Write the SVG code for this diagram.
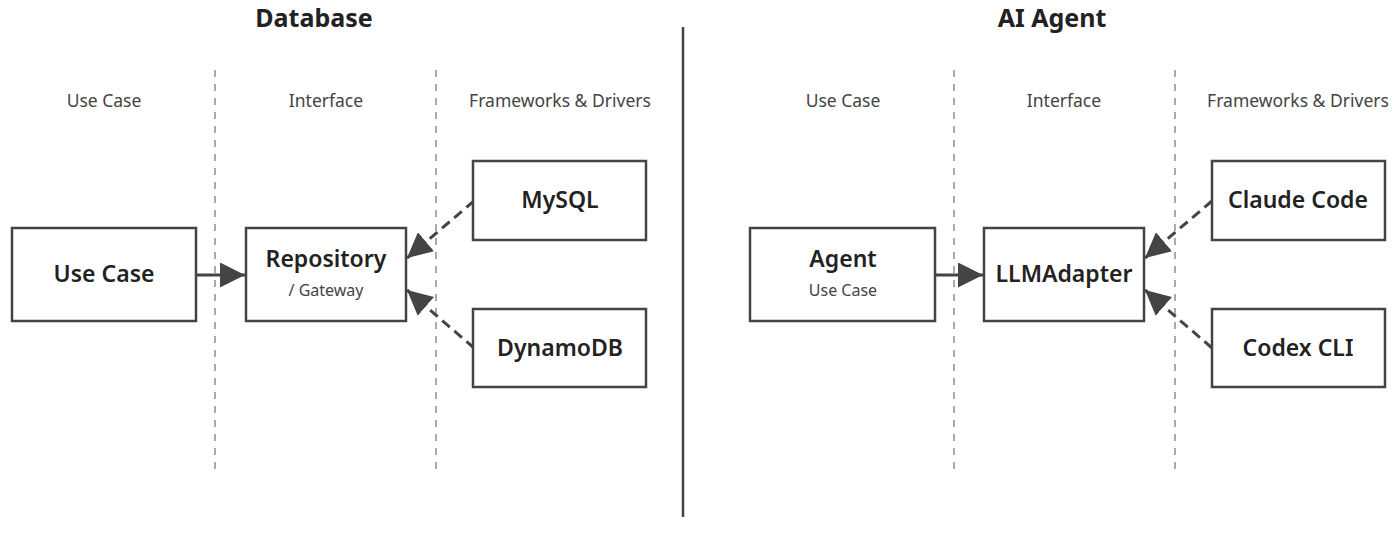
<svg xmlns="http://www.w3.org/2000/svg" width="1400" height="535" viewBox="0 0 1400 535">
<style>
.title{font-family:"Noto Sans","Open Sans","Liberation Sans",sans-serif;font-size:25px;font-weight:700;fill:#222;text-anchor:middle}
.col{font-family:"Noto Sans","Open Sans","Liberation Sans",sans-serif;font-size:17.5px;fill:#444;text-anchor:middle}
.lbl{font-family:"Noto Sans","Open Sans","Liberation Sans",sans-serif;font-size:23px;font-weight:600;fill:#222;text-anchor:middle}
.sub{font-family:"Noto Sans","Open Sans","Liberation Sans",sans-serif;font-size:16px;fill:#444;text-anchor:middle}
.box{fill:#fff;stroke:#444;stroke-width:2.5}
.sep{stroke:#aaa;stroke-width:2;stroke-dasharray:7 7}
.solid{stroke:#444;stroke-width:3;fill:none}
.dash{stroke:#444;stroke-width:3;fill:none;stroke-dasharray:10 6}
</style>
<defs>
<marker id="ah" markerUnits="userSpaceOnUse" markerWidth="25" markerHeight="25" refX="25" refY="12.5" orient="auto">
<path d="M0,0 L25,12.5 L0,25 Z" fill="#444"/>
</marker>
</defs>
<rect width="1400" height="535" fill="#fff"/>
<g id="titles">
<text class="title" x="314" y="27">Database</text>
<text class="title" x="1052" y="27">AI Agent</text>
</g>
<line x1="683" y1="27" x2="683" y2="517" stroke="#444" stroke-width="2.5"/>
<g id="separators">
<line class="sep" x1="215" y1="70" x2="215" y2="476"/>
<line class="sep" x1="436" y1="70" x2="436" y2="476"/>
<line class="sep" x1="954" y1="70" x2="954" y2="476"/>
<line class="sep" x1="1175" y1="70" x2="1175" y2="476"/>
</g>
<g id="columns">
<text class="col" x="104" y="107">Use Case</text>
<text class="col" x="326" y="107">Interface</text>
<text class="col" x="560" y="107">Frameworks &amp; Drivers</text>
<text class="col" x="843" y="107">Use Case</text>
<text class="col" x="1064" y="107">Interface</text>
<text class="col" x="1298" y="107">Frameworks &amp; Drivers</text>
</g>
<g id="connectors">
<line class="solid" x1="196" y1="275" x2="245" y2="275" marker-end="url(#ah)"/>
<line class="dash" x1="474" y1="201" x2="407" y2="258" marker-end="url(#ah)"/>
<line class="dash" x1="474" y1="348" x2="407" y2="290" marker-end="url(#ah)"/>
<line class="solid" x1="935" y1="275" x2="983" y2="275" marker-end="url(#ah)"/>
<line class="dash" x1="1212" y1="201" x2="1145" y2="258" marker-end="url(#ah)"/>
<line class="dash" x1="1212" y1="348" x2="1145" y2="290" marker-end="url(#ah)"/>
</g>
<g id="usecase">
<rect class="box" x="12" y="228" width="184" height="93"/>
<text class="lbl" x="104" y="282">Use Case</text>
</g>
<g id="repository">
<rect class="box" x="246" y="228" width="160" height="93"/>
<text class="lbl" x="326" y="267">Repository</text>
<text class="sub" x="326" y="296">/ Gateway</text>
</g>
<g id="mysql">
<rect class="box" x="473" y="161" width="173" height="79"/>
<text class="lbl" x="560" y="208">MySQL</text>
</g>
<g id="dynamodb">
<rect class="box" x="473" y="309" width="173" height="78"/>
<text class="lbl" x="560" y="356">DynamoDB</text>
</g>
<g id="agent">
<rect class="box" x="750" y="228" width="185" height="93"/>
<text class="lbl" x="843" y="267">Agent</text>
<text class="sub" x="843" y="296">Use Case</text>
</g>
<g id="llmadapter">
<rect class="box" x="984" y="228" width="160" height="93"/>
<text class="lbl" x="1064" y="282">LLMAdapter</text>
</g>
<g id="claudecode">
<rect class="box" x="1212" y="161" width="173" height="79"/>
<text class="lbl" x="1298" y="208">Claude Code</text>
</g>
<g id="codexcli">
<rect class="box" x="1212" y="309" width="173" height="78"/>
<text class="lbl" x="1298" y="356">Codex CLI</text>
</g>
</svg>
